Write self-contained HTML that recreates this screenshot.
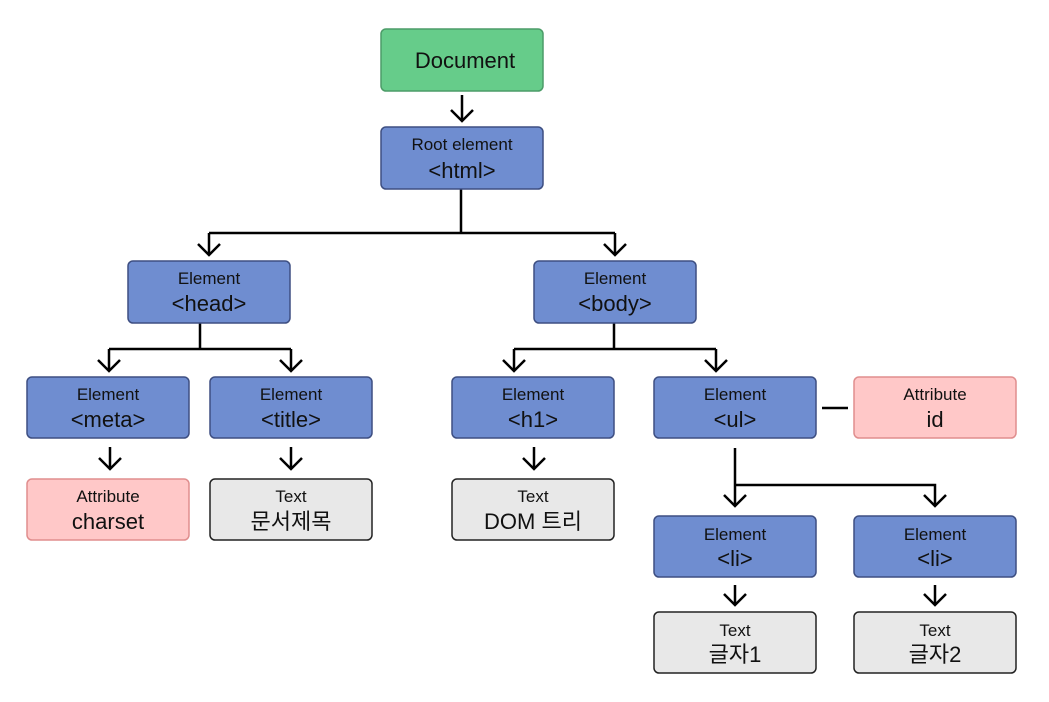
<!DOCTYPE html>
<html><head><meta charset="utf-8"><style>body{margin:0;background:#fff}svg{display:block}text{font-family:"Liberation Sans","Noto Sans CJK KR",sans-serif;fill:#111;text-anchor:middle}</style></head><body>
<svg width="1049" height="702" viewBox="0 0 1049 702">
<defs><marker id="a" viewBox="0 0 12 10" refX="6" refY="9" markerWidth="12" markerHeight="10" markerUnits="userSpaceOnUse" orient="auto-start-reverse"></marker></defs>
<g stroke="#000" stroke-width="2.5" fill="none">
<path d="M462 95V121M451 110l11 11 11-11"/>
<path d="M461 189V233M209 233H615M209 233V255M198 244l11 11 11-11M615 233V255M604 244l11 11 11-11"/>
<path d="M200 323V349M109 349H291M109 349V371M98 360l11 11 11-11M291 349V371M280 360l11 11 11-11"/>
<path d="M614 323V349M514 349H716M514 349V371M503 360l11 11 11-11M716 349V371M705 360l11 11 11-11"/>
<path d="M110 447V469M99 458l11 11 11-11M291 447V469M280 458l11 11 11-11M534 447V469M523 458l11 11 11-11"/>
<path d="M735 448V506M735 485H935V506M724 495l11 11 11-11M924 495l11 11 11-11M822 408H848"/>
<path d="M735 585V605M724 594l11 11 11-11M935 585V605M924 594l11 11 11-11"/>
</g>
<g stroke-width="1.5">
<rect x="381" y="29" width="162" height="62" rx="5" fill="#66CC8A" stroke="#4c9c68"/>
<g fill="#6F8DD0" stroke="#3e4f82">
<rect x="381" y="127" width="162" height="62" rx="5"/>
<rect x="128" y="261" width="162" height="62" rx="5"/>
<rect x="534" y="261" width="162" height="62" rx="5"/>
<rect x="27" y="377" width="162" height="61" rx="5"/>
<rect x="210" y="377" width="162" height="61" rx="5"/>
<rect x="452" y="377" width="162" height="61" rx="5"/>
<rect x="654" y="377" width="162" height="61" rx="5"/>
<rect x="654" y="516" width="162" height="61" rx="5"/>
<rect x="854" y="516" width="162" height="61" rx="5"/>
</g>
<g fill="#FFC8C8" stroke="#e08e8e">
<rect x="854" y="377" width="162" height="61" rx="5"/>
<rect x="27" y="479" width="162" height="61" rx="5"/>
</g>
<g fill="#E8E8E8" stroke="#222">
<rect x="210" y="479" width="162" height="61" rx="5"/>
<rect x="452" y="479" width="162" height="61" rx="5"/>
<rect x="654" y="612" width="162" height="61" rx="5"/>
<rect x="854" y="612" width="162" height="61" rx="5"/>
</g>
</g>
<text x="465" y="68" font-size="22">Document</text>
<g font-size="17">
<text x="462" y="150">Root element</text>
<text x="209" y="284">Element</text><text x="615" y="284">Element</text>
<text x="108" y="400">Element</text><text x="291" y="400">Element</text><text x="533" y="400">Element</text><text x="735" y="400">Element</text><text x="935" y="400">Attribute</text>
<text x="108" y="502">Attribute</text><text x="291" y="502">Text</text><text x="533" y="502">Text</text>
<text x="735" y="540">Element</text><text x="935" y="540">Element</text>
<text x="735" y="636">Text</text><text x="935" y="636">Text</text>
</g>
<g font-size="22">
<text x="462" y="178">&lt;html&gt;</text>
<text x="209" y="311">&lt;head&gt;</text><text x="615" y="311">&lt;body&gt;</text>
<text x="108" y="427">&lt;meta&gt;</text><text x="291" y="427">&lt;title&gt;</text><text x="533" y="427">&lt;h1&gt;</text><text x="735" y="427">&lt;ul&gt;</text><text x="935" y="427">id</text>
<text x="108" y="529">charset</text><text x="291" y="529">문서제목</text><text x="533" y="529">DOM 트리</text>
<text x="735" y="566">&lt;li&gt;</text><text x="935" y="566">&lt;li&gt;</text>
<text x="735" y="662">글자1</text><text x="935" y="662">글자2</text>
</g>
</svg>
</body></html>
